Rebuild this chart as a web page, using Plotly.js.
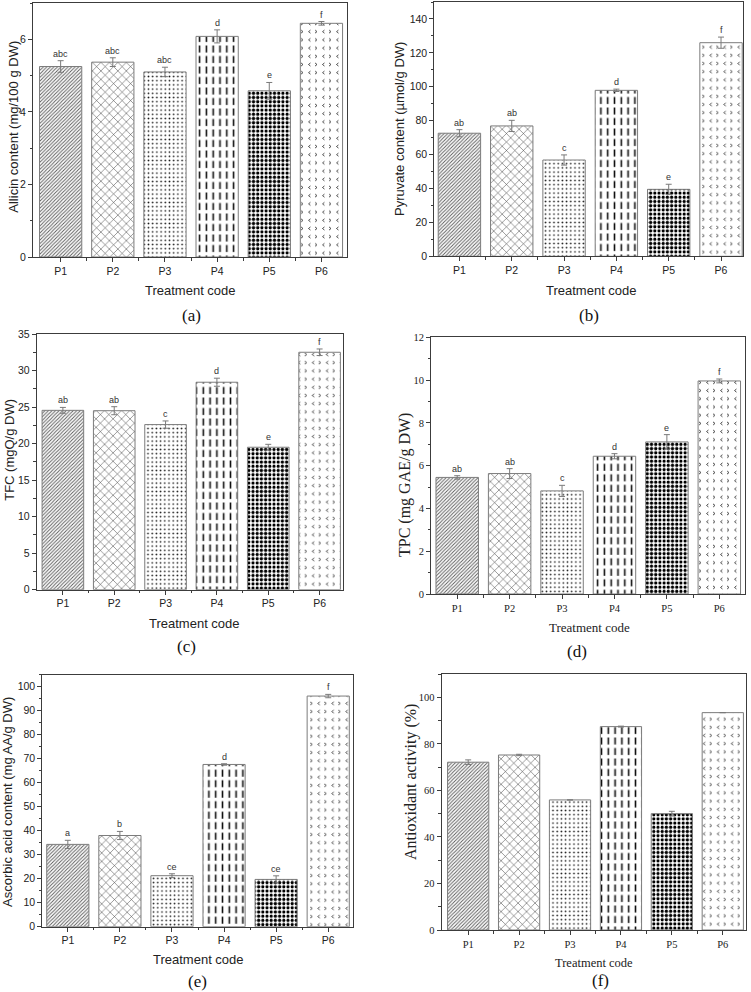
<!DOCTYPE html>
<html><head><meta charset="utf-8">
<script src="https://cdn.plot.ly/plotly-3.0.1.min.js"></script>
<style>html,body{margin:0;padding:0;background:#fff}#chart{width:751px;height:992px}</style>
</head><body><div id="chart"></div>
<script>
// ---------------- data ----------------
const categories = ['P1','P2','P3','P4','P5','P6'];

const allicin        = [5.25, 5.37, 5.10, 6.08, 4.58, 6.44];
const allicinErr     = [0.16, 0.12, 0.13, 0.18, 0.23, 0.05];
const allicinLetters = ['abc','abc','abc','d','e','f'];

const pyruvate        = [72.6, 76.9, 56.8, 97.9, 39.5, 126.0];
const pyruvateErr     = [2.1, 3.3, 3.0, 0.7, 3.0, 3.3];
const pyruvateLetters = ['ab','ab','c','d','e','f'];

const tfc        = [24.55, 24.5, 22.6, 28.4, 19.5, 32.5];
const tfcErr     = [0.4, 0.55, 0.5, 0.55, 0.4, 0.45];
const tfcLetters = ['ab','ab','c','d','e','f'];

const tpc        = [5.45, 5.63, 4.82, 6.44, 7.11, 9.96];
const tpcErr     = [0.08, 0.23, 0.26, 0.12, 0.34, 0.09];
const tpcLetters = ['ab','ab','c','d','e','f'];

const ascorbic        = [34.3, 38.0, 21.25, 67.6, 19.7, 96.1];
const ascorbicErr     = [1.7, 1.7, 0.8, 0.3, 1.5, 0.7];
const ascorbicLetters = ['a','b','ce','d','ce','f'];

const antioxidant    = [72.1, 75.2, 55.9, 87.4, 50.0, 93.4];
const antioxidantErr = [1.0, 0.3, 0, 0.2, 1.0, 0];

// ---------------- styling ----------------
const W = 751, H = 992;
const SANS = 'Liberation Sans, Arial, sans-serif';
const SERIF = 'Liberation Serif, Times New Roman, serif';
const AXC = '#3c3c3c';

const panels = [
  {vals: allicin, err: allicinErr, letters: allicinLetters, box: [33, 3, 347, 257],
   xr: [-0.53, 5.49], yr: [0, 7], dtick: 2, minor: 1,
   ytitle: 'Allicin content (mg/100 g DW)', ytc: [12.7, 127], xtc: [190, 290], xts: 13,
   lab: '(a)', labc: [191.7, 315], serif: false},
  {vals: pyruvate, err: pyruvateErr, letters: pyruvateLetters, box: [434.3, 2, 743, 256.3],
   xr: [-0.48, 5.42], yr: [0, 150], dtick: 20, minor: 10,
   ytitle: 'Pyruvate content (\u00b5mol/g DW)', ytc: [400, 129], xtc: [591, 290], xts: 13,
   lab: '(b)', labc: [588.7, 315], serif: false},
  {vals: tfc, err: tfcErr, letters: tfcLetters, box: [36.7, 334, 342.7, 589.7],
   xr: [-0.51, 5.45], yr: [0, 35], dtick: 5, minor: 2.5,
   ytitle: 'TFC (mgQ/g DW)', ytc: [8.8, 450], xtc: [194.5, 623.3], xts: 13,
   lab: '(c)', labc: [186.7, 646.7], serif: false},
  {vals: tpc, err: tpcErr, letters: tpcLetters, box: [431, 337.3, 745, 594],
   xr: [-0.5, 5.49], yr: [0, 12], dtick: 2, minor: 1,
   ytitle: 'TPC (mg GAE/g DW)', ytc: [405, 485], xtc: [589, 627.7], xts: 13,
   lab: '(d)', labc: [577, 651.7], serif: true},
  {vals: ascorbic, err: ascorbicErr, letters: ascorbicLetters, box: [42.3, 674.7, 352.7, 926.7],
   xr: [-0.49, 5.47], yr: [0, 105], dtick: 10, minor: 5,
   ytitle: 'Ascorbic acid content (mg AA/g DW)', ytc: [8.2, 801.7], xtc: [198, 959], xts: 13,
   lab: '(e)', labc: [197.5, 981.7], serif: false},
  {vals: antioxidant, err: antioxidantErr, letters: null, box: [441.7, 674, 745.7, 930],
   xr: [-0.52, 5.45], yr: [0, 110], dtick: 20, minor: 10,
   ytitle: 'Antioxidant activity (%)', ytc: [411, 782], xtc: [594, 962.5], xts: 12.5,
   lab: '(f)', labc: [600, 980.5], serif: true}
];

// per-bar fill patterns (P1..P6)
const patShapes   = ['/', 'x', '.', '|', '.', '.'];
const patSizes    = [2.5, 6, 4.2, 7, 4.2, 7];
const patSolidity = [0.36, 0.16, 0.13, 0.22, 0.47, 0.04];
const patColors   = ['#5a5a5a', '#3a3a3a', '#1a1a1a', '#111111', '#000000', '#333333'];

const xIdx = categories.map((c, i) => i);
const minorX = categories.slice(1).map((c, i) => i + 0.5);

const traces = [];
const layout = {
  width: W, height: H, margin: {l: 0, r: 0, t: 0, b: 0},
  paper_bgcolor: '#fff', plot_bgcolor: '#fff', showlegend: false,
  bargap: 0.19, annotations: []
};

panels.forEach((p, k) => {
  const n = k === 0 ? '' : String(k + 1);
  const font = p.serif ? SERIF : SANS;
  traces.push({
    type: 'bar', x: xIdx, y: p.vals, xaxis: 'x' + n, yaxis: 'y' + n,
    width: 0.81,
    marker: {
      color: '#ffffff',
      line: {color: '#7c7c7c', width: 1},
      pattern: {shape: patShapes, size: patSizes, solidity: patSolidity,
                fgcolor: patColors, bgcolor: '#ffffff', fillmode: 'replace'}
    },
    error_y: {type: 'data', array: p.err, visible: true, color: '#7a7a7a', thickness: 1, width: 3},
    hoverinfo: 'skip'
  });
  const [x0, y0, x1, y1] = p.box;
  layout['xaxis' + n] = {
    domain: [x0 / W, x1 / W], anchor: 'y' + n, range: p.xr, type: 'linear',
    tickmode: 'array', tickvals: xIdx, ticktext: categories,
    showline: true, mirror: true, linecolor: AXC, linewidth: 1,
    ticks: 'outside', ticklen: 4, tickwidth: 1, tickcolor: AXC,
    minor: {tickmode: 'array', tickvals: minorX, ticks: 'outside', ticklen: 2.5, tickcolor: AXC},
    showgrid: false, zeroline: false, fixedrange: true,
    tickfont: {family: font, size: 10.5, color: '#222'}
  };
  layout['yaxis' + n] = {
    domain: [1 - y1 / H, 1 - y0 / H], anchor: 'x' + n, range: p.yr,
    tick0: 0, dtick: p.dtick,
    showline: true, mirror: true, linecolor: AXC, linewidth: 1,
    ticks: 'outside', ticklen: 4, tickwidth: 1, tickcolor: AXC,
    minor: {dtick: p.minor, tick0: 0, ticks: 'outside', ticklen: 2.5, tickcolor: AXC},
    showgrid: false, zeroline: false, fixedrange: true,
    tickfont: {family: font, size: 10.5, color: '#222'}
  };
  // axis titles
  layout.annotations.push({
    xref: 'paper', yref: 'paper', x: p.ytc[0] / W, y: 1 - p.ytc[1] / H,
    xanchor: 'center', yanchor: 'middle', textangle: -90, showarrow: false,
    text: p.ytitle, font: {family: font, size: p.serif ? 16 : 13, color: '#222'}
  });
  layout.annotations.push({
    xref: 'paper', yref: 'paper', x: p.xtc[0] / W, y: 1 - p.xtc[1] / H,
    xanchor: 'center', yanchor: 'middle', showarrow: false, borderpad: 0,
    text: 'Treatment code', font: {family: font, size: p.xts, color: '#222'}
  });
  layout.annotations.push({
    xref: 'paper', yref: 'paper', x: p.labc[0] / W, y: 1 - p.labc[1] / H,
    xanchor: 'center', yanchor: 'middle', showarrow: false, borderpad: 0,
    text: p.lab, font: {family: SERIF, size: 17, color: '#111'}
  });
  // significance letters
  if (p.letters) {
    p.letters.forEach((t, i) => {
      layout.annotations.push({
        xref: 'x' + n, yref: 'y' + n, x: i, y: p.vals[i] + p.err[i],
        xanchor: 'center', yanchor: 'bottom', showarrow: false, yshift: 0,
        text: t, font: {family: SANS, size: 9, color: '#333'}
      });
    });
  }
});

Plotly.newPlot('chart', traces, layout, {staticPlot: true, displayModeBar: false}).then(() => {
  // refine texture tiles for P4 (dashed verticals) and P6 (chevrons)
  const NS = 'http://www.w3.org/2000/svg';
  const done = {};
  document.querySelectorAll('.barlayer .trace').forEach(tr => {
    const pts = tr.querySelectorAll('.point path');
    [[3, 'dash'], [5, 'chev']].forEach(([idx, kind]) => {
      const el = pts[idx];
      if (!el) return;
      const st = el.getAttribute('style') || '';
      const m = st.match(/url\(["']?#([^"')]+)["']?\)/);
      if (!m || done[m[1]]) return;
      const pat = document.getElementById(m[1]);
      if (!pat) return;
      done[m[1]] = true;
      while (pat.firstChild) pat.removeChild(pat.firstChild);
      const bg = document.createElementNS(NS, 'rect');
      const path = document.createElementNS(NS, 'path');
      if (kind === 'dash') {
        pat.setAttribute('width', 6.8); pat.setAttribute('height', 10.5);
        bg.setAttribute('width', 6.8); bg.setAttribute('height', 10.5);
        path.setAttribute('d', 'M3.4,0.5V7.5');
        path.setAttribute('stroke', '#111'); path.setAttribute('stroke-width', 1.6);
      } else {
        pat.setAttribute('width', 14); pat.setAttribute('height', 8.2);
        bg.setAttribute('width', 14); bg.setAttribute('height', 8.2);
        path.setAttribute('d', 'M2,2.6L4,4.1L2,5.6M11.5,2.6L9.5,4.1L11.5,5.6');
        path.setAttribute('stroke', '#333'); path.setAttribute('stroke-width', 0.9);
        path.setAttribute('fill', 'none');
      }
      bg.setAttribute('fill', '#fff');
      pat.appendChild(bg); pat.appendChild(path);
    });
  });
});
</script>
</body></html>
